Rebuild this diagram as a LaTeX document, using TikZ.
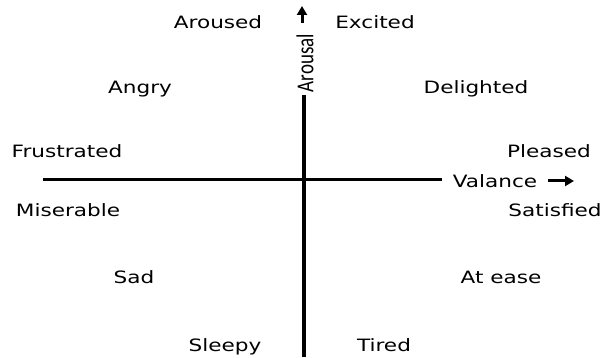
\documentclass[tikz,border=0pt]{standalone}
\usepackage{fontspec}
\setmainfont{DejaVu Sans}
\newfontfamily\axisfont{Carlito}
\usetikzlibrary{arrows.meta}
\begin{document}
\begin{tikzpicture}[x=1pt,y=-1pt,
  lbl/.style={font=\fontsize{17}{20}\selectfont, inner sep=0pt, xscale=1.27, anchor=base},
  hax/.style={line width=3pt},
  vax/.style={line width=3.5pt},
  tiny/.style={line width=3pt,-{Triangle[length=9pt,width=10pt]}}]
\useasboundingbox (0,0) rectangle (602,358);
\node[lbl] (aroused) at (218,29) {Aroused};
\node[lbl] (excited) at (375,29) {Excited};
\node[lbl] (angry) at (140,94) {Angry};
\node[lbl] (delighted) at (476,94) {Delighted};
\node[lbl] (frustrated) at (67,158) {Frustrated};
\node[lbl] (pleased) at (549,158) {Pleased};
\node[lbl] (miserable) at (68,216) {Miserable};
\node[lbl] (satisfied) at (555,216) {Satisfied};
\node[lbl] (sad) at (134,283) {Sad};
\node[lbl] (atease) at (501,283) {At ease};
\node[lbl] (sleepy) at (225,351) {Sleepy};
\node[lbl] (tired) at (384,351) {Tired};
\node[lbl] (valance) at (495,188) {Valance};
\node[inner sep=0pt, rotate=90, font=\axisfont\fontsize{19}{22}\selectfont] (arousal) at (305,63) {\scalebox{1}[1.28]{Arousal}};
\coordinate (hl) at (43,180);
\coordinate (hr) at (442,180);
\coordinate (vt) at (304,95);
\coordinate (vb) at (304,357);
\draw[hax] (hl) -- (hr);
\draw[vax] (vt) -- (vb);
\coordinate (ua) at (302,23);
\coordinate (ub) at (302,6);
\draw[tiny] (ua) -- (ub);
\coordinate (ra) at (548,181);
\coordinate (rb) at (574,181);
\draw[tiny] (ra) -- (rb);
\end{tikzpicture}
\end{document}
